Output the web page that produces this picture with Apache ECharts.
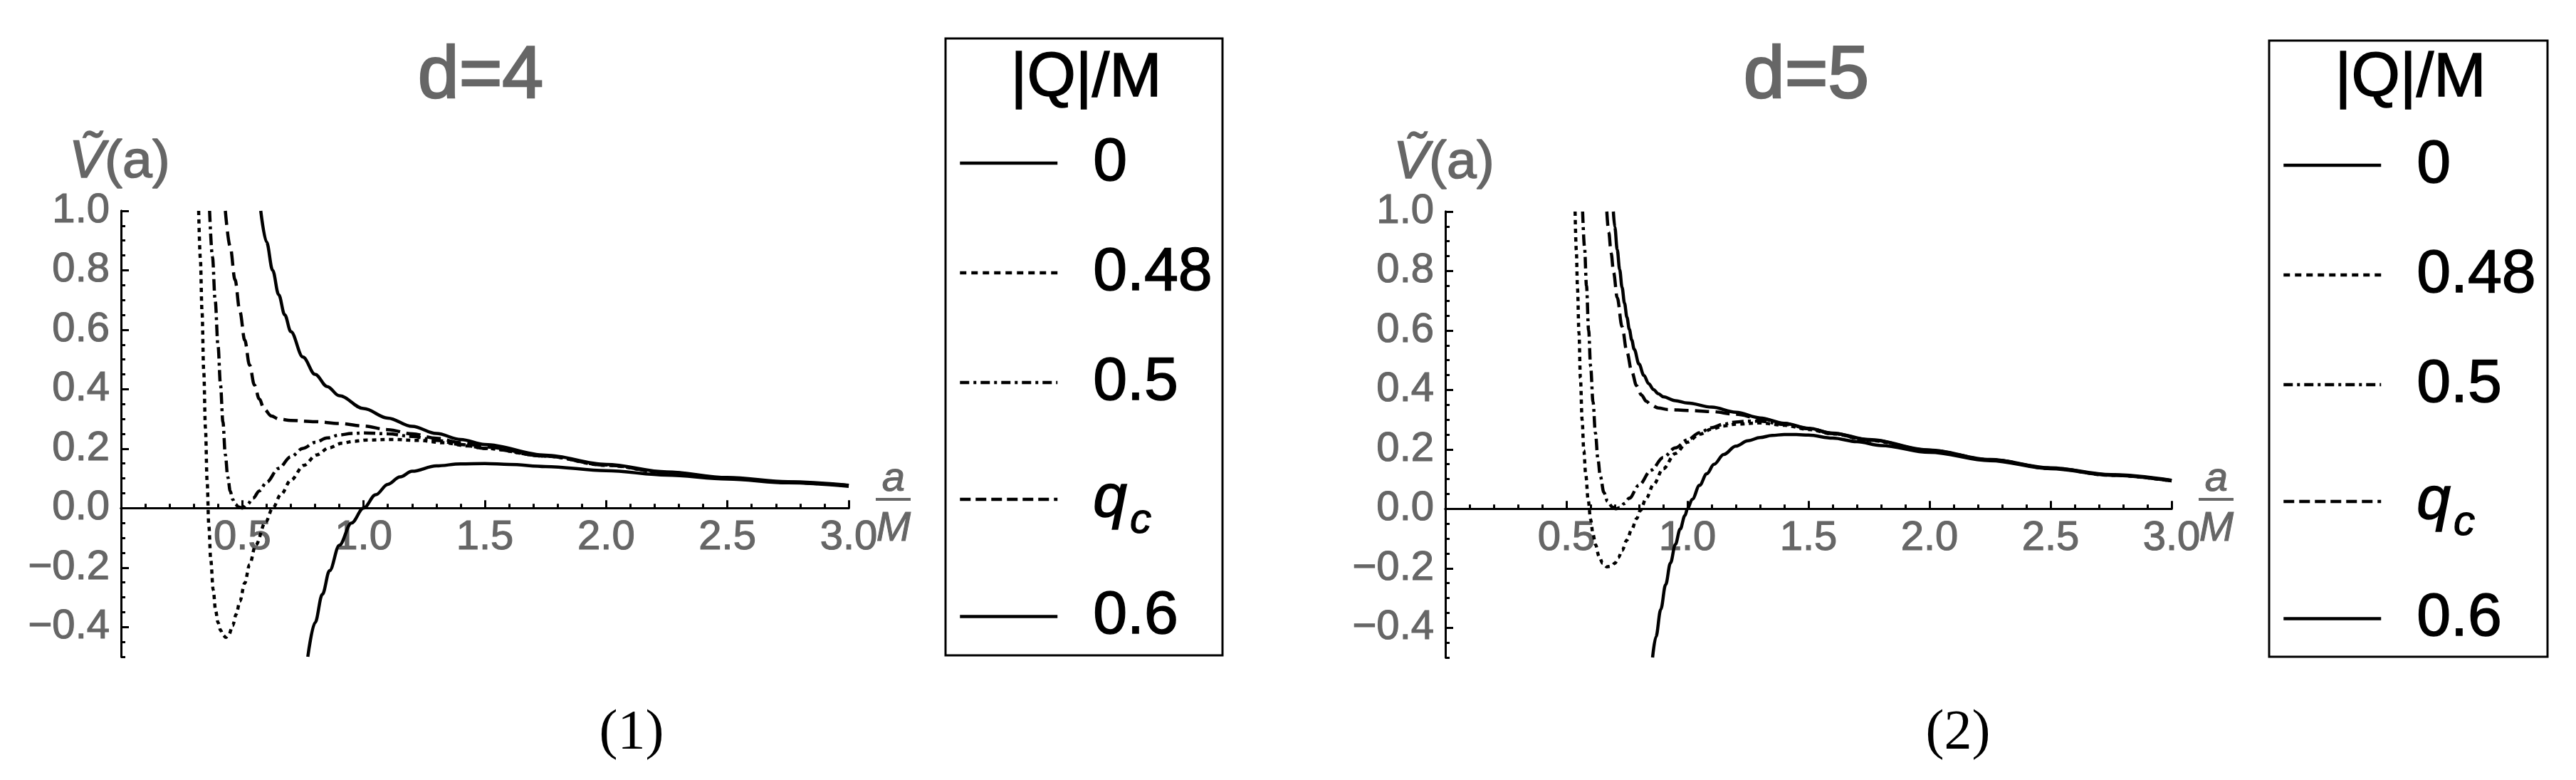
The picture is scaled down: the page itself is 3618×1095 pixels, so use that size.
<!DOCTYPE html>
<html><head><meta charset="utf-8">
<script src="https://cdn.jsdelivr.net/npm/echarts@6/dist/echarts.min.js"></script>
<style>html,body{margin:0;padding:0;background:#fff}#c{width:3618px;height:1095px}</style>
</head><body><div id="c"></div>
<script>
// ---------- data ----------
// d = 4
const d4_q0_x = [0.576,0.60,0.625,0.65,0.675,0.70,0.75,0.80,0.85,0.90,1.00,1.10,1.20,1.30,1.40,1.50,1.75,2.00,2.25,2.50,2.75,3.00];
const d4_q0_y = [1.0,0.895,0.80,0.718,0.65,0.594,0.508,0.450,0.409,0.378,0.335,0.303,0.275,0.251,0.231,0.214,0.178,0.147,0.122,0.103,0.089,0.077];
const d4_q48_x = [0.320,0.327,0.334,0.341,0.348,0.355,0.362,0.370,0.380,0.390,0.400,0.410,0.420,0.432,0.445,0.460,0.475,0.490,0.510,0.530,0.555,0.597,0.625,0.660,0.700,0.754,0.806,0.858,0.910,0.960,1.015,1.119,1.223,1.328,1.432,1.50,1.75,2.00,2.25,2.50,2.75,3.00];
const d4_q48_y = [1.0,0.84,0.66,0.46,0.27,0.09,-0.06,-0.175,-0.275,-0.345,-0.385,-0.41,-0.427,-0.435,-0.425,-0.395,-0.357,-0.313,-0.252,-0.190,-0.124,-0.045,0.0,0.047,0.094,0.144,0.179,0.203,0.218,0.225,0.229,0.231,0.228,0.220,0.209,0.201,0.175,0.144,0.119,0.100,0.086,0.075];
const d4_q50_x = [0.365,0.377,0.388,0.40,0.41,0.42,0.43,0.44,0.45,0.46,0.47,0.485,0.50,0.52,0.545,0.57,0.60,0.65,0.70,0.75,0.80,0.85,0.90,0.95,1.00,1.10,1.20,1.30,1.40,1.50,1.75,2.00,2.25,2.50,2.75,3.00];
const d4_q50_y = [1.0,0.845,0.70,0.545,0.415,0.29,0.18,0.105,0.058,0.030,0.014,0.004,0.0,0.012,0.034,0.058,0.087,0.134,0.173,0.201,0.221,0.236,0.246,0.251,0.253,0.250,0.241,0.228,0.214,0.201,0.175,0.145,0.120,0.101,0.087,0.076];
const d4_qc_x = [0.43,0.45,0.47,0.49,0.51,0.53,0.55,0.57,0.59,0.62,0.65,0.70,0.80,0.90,1.00,1.10,1.20,1.30,1.40,1.50,1.75,2.00,2.25,2.50,2.75,3.00];
const d4_qc_y = [1.0,0.88,0.768,0.662,0.565,0.481,0.414,0.367,0.333,0.310,0.300,0.295,0.291,0.285,0.276,0.264,0.250,0.235,0.220,0.206,0.175,0.145,0.120,0.101,0.087,0.076];
const d4_q60_x = [0.77,0.80,0.83,0.86,0.90,0.95,1.00,1.05,1.10,1.15,1.20,1.30,1.40,1.50,1.60,1.75,2.00,2.25,2.50,2.75,3.00];
const d4_q60_y = [-0.50,-0.385,-0.29,-0.21,-0.125,-0.05,0.0,0.045,0.08,0.105,0.124,0.142,0.149,0.150,0.147,0.140,0.126,0.111,0.098,0.085,0.073];
// d = 5
const d5_q0_x = [0.694,0.70,0.71,0.72,0.73,0.74,0.75,0.76,0.77,0.78,0.80,0.82,0.84,0.86,0.88,0.90,0.95,1.00,1.10,1.20,1.30,1.40,1.50,1.60,1.75,2.00,2.25,2.50,2.75,3.00];
const d5_q0_y = [1.0,0.948,0.872,0.805,0.745,0.692,0.645,0.604,0.568,0.537,0.487,0.449,0.421,0.401,0.387,0.377,0.364,0.356,0.342,0.325,0.306,0.288,0.271,0.255,0.233,0.198,0.166,0.138,0.115,0.096];
const d5_q48_x = [0.536,0.541,0.546,0.552,0.558,0.565,0.572,0.58,0.59,0.60,0.61,0.62,0.635,0.65,0.667,0.685,0.70,0.715,0.73,0.75,0.77,0.79,0.805,0.83,0.86,0.90,0.95,1.00,1.05,1.10,1.15,1.20,1.30,1.40,1.50,1.60,1.75,2.00,2.25,2.50,2.75,3.00];
const d5_q48_y = [1.0,0.87,0.74,0.59,0.44,0.30,0.196,0.115,0.03,-0.035,-0.085,-0.12,-0.16,-0.183,-0.195,-0.193,-0.183,-0.164,-0.14,-0.105,-0.069,-0.033,-0.006,0.036,0.082,0.135,0.186,0.224,0.251,0.268,0.279,0.285,0.289,0.281,0.267,0.252,0.230,0.195,0.164,0.136,0.113,0.094];
const d5_q50_x = [0.567,0.575,0.583,0.592,0.60,0.61,0.62,0.63,0.64,0.655,0.67,0.69,0.705,0.72,0.74,0.76,0.80,0.85,0.90,0.95,1.00,1.05,1.10,1.15,1.20,1.25,1.30,1.40,1.50,1.60,1.75,2.00,2.25,2.50,2.75,3.00];
const d5_q50_y = [1.0,0.88,0.75,0.60,0.48,0.36,0.255,0.17,0.11,0.055,0.025,0.006,0.0,0.004,0.018,0.036,0.08,0.13,0.173,0.205,0.232,0.256,0.273,0.285,0.292,0.295,0.295,0.284,0.269,0.253,0.231,0.196,0.165,0.137,0.114,0.095];
const d5_qc_x = [0.667,0.675,0.685,0.695,0.71,0.73,0.75,0.77,0.79,0.81,0.83,0.85,0.88,0.92,1.00,1.10,1.20,1.30,1.40,1.50,1.60,1.75,2.00,2.25,2.50,2.75,3.00];
const d5_qc_y = [1.0,0.93,0.86,0.795,0.71,0.613,0.528,0.462,0.414,0.383,0.362,0.349,0.339,0.334,0.331,0.327,0.318,0.304,0.287,0.270,0.254,0.232,0.197,0.165,0.137,0.114,0.095];
const d5_q60_x = [0.856,0.87,0.89,0.91,0.93,0.95,0.97,0.99,1.00,1.02,1.05,1.08,1.11,1.15,1.20,1.25,1.30,1.35,1.40,1.45,1.50,1.60,1.70,1.80,2.00,2.25,2.50,2.75,3.00];
const d5_q60_y = [-0.5,-0.43,-0.338,-0.255,-0.182,-0.12,-0.068,-0.022,0.0,0.032,0.079,0.118,0.150,0.183,0.211,0.229,0.240,0.247,0.250,0.250,0.248,0.238,0.226,0.213,0.190,0.162,0.135,0.113,0.094];

// tick labels / legend
const yMajorTicks = [-0.4,-0.2,0,0.2,0.4,0.6,0.8,1.0];
const xMajorInterval = 0.5;
const legendNames = ['0','0.48','0.5','qc','0.6'];
const chartTitles = ['d=4','d=5'];
const captions = ['(1)','(2)'];

// ---------- styling ----------
const SANS = 'Liberation Sans, Arial, DejaVu Sans, sans-serif';
const GREY = '#666666';
const dashes = {'0':'solid','0.48':[6,6],'0.5':[16,6,4,6],'qc':[20,9],'0.6':'solid'};
const legendDashes = {'0':'solid','0.48':[9,7],'0.5':[13,6,4,6],'qc':[15,7],'0.6':'solid'};

const panels = [
  {left:170, top:296, width:1022, height:626,
   data: {'0':[d4_q0_x,d4_q0_y],'0.48':[d4_q48_x,d4_q48_y],'0.5':[d4_q50_x,d4_q50_y],'qc':[d4_qc_x,d4_qc_y],'0.6':[d4_q60_x,d4_q60_y]},
   titleX:675, boxL:1328, boxT:54, boxR:1717, boxB:920, legendTop:179, capX:887},
  {left:2030, top:297, width:1020, height:626,
   data: {'0':[d5_q0_x,d5_q0_y],'0.48':[d5_q48_x,d5_q48_y],'0.5':[d5_q50_x,d5_q50_y],'qc':[d5_qc_x,d5_qc_y],'0.6':[d5_q60_x,d5_q60_y]},
   titleX:2537, boxL:3187, boxT:57, boxR:3578, boxB:922, legendTop:182, capX:2750}
];

const grid=[], xAxis=[], yAxis=[], series=[], legend=[], graphic=[];
const axisLineStyle = {color:'#000', width:3};
const Y_MIN = -0.5, Y_MAX = 1.0;
panels.forEach((p,k)=>{
  const g = {left:p.left, top:p.top, width:p.width, height:p.height, containLabel:false, outerBoundsMode:'none'};
  const gi = grid.length; grid.push(Object.assign({},g));
  const mi = grid.length; grid.push(Object.assign({},g));
  const zeroH = p.height * Y_MAX / (Y_MAX - Y_MIN);
  const li = grid.length; grid.push({left:p.left, top:p.top, width:p.width, height:zeroH, containLabel:false, outerBoundsMode:'none'});

  xAxis.push({gridIndex:gi, type:'value', min:0, max:3, interval:xMajorInterval,
    axisLine:{onZero:true, lineStyle:axisLineStyle},
    axisTick:{inside:true, length:11, lineStyle:{color:'#000', width:3}},
    axisLabel:{show:false}, splitLine:{show:false}});
  yAxis.push({gridIndex:gi, type:'value', min:Y_MIN, max:Y_MAX,
    axisLine:{show:true, onZero:false, lineStyle:axisLineStyle},
    axisTick:{inside:true, length:11, customValues:yMajorTicks, lineStyle:{color:'#000', width:3}},
    axisLabel:{customValues:yMajorTicks, margin:16, color:GREY, fontSize:58, fontFamily:SANS,
      textBorderColor:GREY, textBorderWidth:1.2,
      formatter:v=> v<0 ? '\u2212'+(-v).toFixed(1) : v.toFixed(1)},
    splitLine:{show:false}});
  xAxis.push({gridIndex:mi, type:'value', min:0, max:3, interval:0.1,
    axisLine:{onZero:true, lineStyle:axisLineStyle},
    axisTick:{inside:true, length:6, lineStyle:{color:'#000', width:3}},
    axisLabel:{show:false}, splitLine:{show:false}});
  yAxis.push({gridIndex:mi, type:'value', min:Y_MIN, max:Y_MAX, interval:0.05,
    axisLine:{show:true, onZero:false, lineStyle:axisLineStyle},
    axisTick:{inside:true, length:6, lineStyle:{color:'#000', width:3}},
    axisLabel:{show:false}, splitLine:{show:false}});
  xAxis.push({gridIndex:li, type:'value', min:0, max:3, interval:xMajorInterval, position:'bottom',
    axisLine:{show:false, onZero:false}, axisTick:{show:false},
    axisLabel:{margin:13, color:GREY, fontSize:58, fontFamily:SANS, showMinLabel:false,
      textBorderColor:GREY, textBorderWidth:1.2,
      formatter:v=> v===0 ? '' : v.toFixed(1)},
    splitLine:{show:false}});
  yAxis.push({gridIndex:li, type:'value', min:0, max:Y_MAX, show:false});

  legendNames.forEach(n=>{
    const [xs,ys] = p.data[n];
    series.push({name:n, type:'line', xAxisIndex:gi, yAxisIndex:gi,
      data: xs.map((x,i)=>[x, ys[i]]),
      showSymbol:false, symbol:'none', smooth:0.35, smoothMonotone:'x', clip:true,
      lineStyle:{color:'#000', width:4.5, type:dashes[n], cap:'butt'},
      itemStyle:{color:'#000'}, emphasis:{disabled:true}, z:3});
  });
  legend.push({left:p.boxL+18, top:p.legendTop, orient:'vertical', padding:0,
    itemWidth:137, itemHeight:20, itemGap:54, selectedMode:false,
    data: legendNames.map(n=>({name:n, lineStyle:{type:legendDashes[n], width:4.5, color:'#000'}})),
    itemStyle:{opacity:0},
    formatter: n=> n==='qc' ? '{s|}{q|q}{c|c}' : '{s|}{n|'+n+'}',
    textStyle:{color:'#000', fontFamily:SANS, lineHeight:100,
      rich:{
        s:{width:45, lineHeight:100},
        n:{fontSize:86, lineHeight:100, fontFamily:SANS, color:'#000', textBorderColor:'#000', textBorderWidth:1.5},
        q:{fontSize:86, lineHeight:100, fontStyle:'italic', fontFamily:SANS, color:'#000', textBorderColor:'#000', textBorderWidth:1.5},
        c:{fontSize:60, lineHeight:40, fontStyle:'italic', fontFamily:SANS, color:'#000', textBorderColor:'#000', textBorderWidth:1.2, padding:[60,0,0,4]}
      }}});
  const axisEnd = p.left + p.width;
  graphic.push(
    {type:'text', x:p.titleX, y:108, style:{text:chartTitles[k], fill:GREY, stroke:GREY, lineWidth:2.5, font:'104px '+SANS, align:'center', verticalAlign:'middle'}},
    {type:'text', x:p.left-73, y:228+k, style:{text:'{v|\u1E7C}{r|(a)}', fill:GREY, font:'75px '+SANS, verticalAlign:'middle',
       rich:{
         v:{fontStyle:'italic', fontSize:75, fontFamily:SANS, fill:GREY, stroke:GREY, lineWidth:1.5},
         r:{fontSize:75, fontFamily:SANS, fill:GREY, stroke:GREY, lineWidth:1.5}
       }}},
    {type:'text', x:axisEnd+63, y:673, style:{text:'a', fill:GREY, stroke:GREY, lineWidth:1, font:'italic 58px '+SANS, align:'center', verticalAlign:'middle'}},
    {type:'rect', shape:{x:axisEnd+38, y:699, width:49, height:4}, style:{fill:GREY}},
    {type:'text', x:axisEnd+63, y:743, style:{text:'M', fill:GREY, stroke:GREY, lineWidth:1, font:'italic 58px '+SANS, align:'center', verticalAlign:'middle'}},
    {type:'rect', shape:{x:p.boxL, y:p.boxT, width:p.boxR-p.boxL, height:p.boxB-p.boxT}, style:{fill:'none', stroke:'#000', lineWidth:3}},
    {type:'text', x:(p.boxL+p.boxR)/2+3, y:111, style:{text:'|Q|/M', fill:'#000', stroke:'#000', lineWidth:1.5, font:'88px '+SANS, align:'center', verticalAlign:'middle'}},
    {type:'text', x:p.capX, y:1030, style:{text:captions[k], fill:'#000', font:'78px Liberation Serif, Times New Roman, serif', align:'center', verticalAlign:'middle'}}
  );
});

const chart = echarts.init(document.getElementById('c'), null, {renderer:'canvas'});
chart.setOption({animation:false, backgroundColor:'#fff', grid, xAxis, yAxis, series, legend, graphic});
</script></body></html>
